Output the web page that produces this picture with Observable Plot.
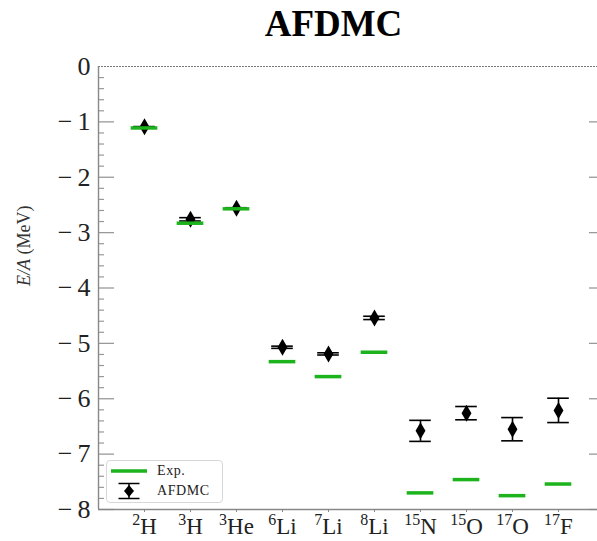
<!DOCTYPE html>
<html><head><meta charset="utf-8">
<script src="https://cdn.jsdelivr.net/npm/d3@7"></script>
<script src="https://cdn.jsdelivr.net/npm/@observablehq/plot@0.6"></script>
<style>
body{margin:0;background:#fff;}
#wrap{position:relative;width:597px;height:541px;overflow:hidden;}
#legend{position:absolute;left:106px;top:460px;width:115px;height:41px;border:1px solid #d8d8d8;border-radius:4px;background:rgba(255,255,255,0.85);font-family:"Liberation Serif",serif;font-size:14px;letter-spacing:0.6px;color:#222;}
#legend .row{position:absolute;left:0;height:20px;display:flex;align-items:center;}
#legend svg{display:block;}
#legend span{position:absolute;left:50px;white-space:nowrap;}
</style></head>
<body><div id="wrap"><div id="chart"></div>
<div id="legend">
  <div class="row" style="top:0px;"><svg width="44" height="20"><line x1="4" x2="40" y1="10" y2="10" stroke="#1db31d" stroke-width="3.5"/></svg><span>Exp.</span></div>
  <div class="row" style="top:20px;"><svg width="44" height="20"><line x1="22" x2="22" y1="2.5" y2="17.5" stroke="#000" stroke-width="1.5"/><line x1="11.5" x2="32.5" y1="2.5" y2="2.5" stroke="#000" stroke-width="1.5"/><line x1="11.5" x2="32.5" y1="17.5" y2="17.5" stroke="#000" stroke-width="1.5"/><path d="M22,4L27,10L22,16L17,10Z" fill="#000"/></svg><span>AFDMC</span></div>
</div>
</div>
<script>
const nuclei = ["2H","3H","3He","6Li","7Li","8Li","15N","15O","17O","17F"];
const massNumbers = ["2","3","3","6","7","8","15","15","17","17"];
const elements = ["H","H","He","Li","Li","Li","N","O","O","F"];
const expValues = [-1.11,-2.83,-2.57,-5.33,-5.60,-5.16,-7.70,-7.46,-7.75,-7.54];
const afdmcValues = [-1.09,-2.76,-2.56,-5.07,-5.19,-4.54,-6.58,-6.26,-6.55,-6.21];
const afdmcErrors = [0.005,0.03,0.01,0.02,0.02,0.03,0.19,0.12,0.21,0.22];
const yMajorTicks = [0,-1,-2,-3,-4,-5,-6,-7,-8];
const yMinorTicks = [-0.2,-0.4,-0.6,-0.8,-1.2,-1.4,-1.6,-1.8,-2.2,-2.4,-2.6,-2.8,-3.2,-3.4,-3.6,-3.8,-4.2,-4.4,-4.6,-4.8,-5.2,-5.4,-5.6,-5.8,-6.2,-6.4,-6.6,-6.8,-7.2,-7.4,-7.6,-7.8];
const title = "AFDMC";

const rows = nuclei.map((n, i) => ({pos: i + 1, name: n, exp: expValues[i], val: afdmcValues[i], err: afdmcErrors[i]}));

const thinDiamond = {
  draw(ctx, size) {
    const h = Math.sqrt(size / Math.PI);
    const w = h * 0.58;
    ctx.moveTo(0, -h); ctx.lineTo(w, 0); ctx.lineTo(0, h); ctx.lineTo(-w, 0); ctx.closePath();
  }
};

const green = "#1db31d";
const serif = "Liberation Serif";
const yFmt = d => d === 0 ? "0" : "\u2212\u2009" + Math.abs(d);

const chart = Plot.plot({
  width: 597,
  height: 541,
  marginTop: 66,
  marginBottom: 32,
  marginLeft: 98,
  marginRight: -7,
  style: {fontFamily: serif, background: "#fff"},
  x: {domain: [0, 11], axis: null},
  y: {domain: [-8, 0], axis: null},
  marks: [
    Plot.ruleY([0], {stroke: "#777", strokeWidth: 1.2, strokeDasharray: "2,1"}),
    Plot.axisY(yMinorTicks, {anchor: "left", tickSize: -6, tickFormat: () => "", stroke: "#999", strokeWidth: 1.2, label: null}),
    Plot.axisY(yMajorTicks.filter(d => d !== 0), {anchor: "left", tickSize: -16, tickFormat: () => "", stroke: "#999", strokeWidth: 1.3, label: null}),
    Plot.axisY(yMinorTicks, {anchor: "right", tickSize: -6, tickFormat: () => "", stroke: "#999", strokeWidth: 1.2, label: null}),
    Plot.axisY(yMajorTicks.filter(d => d !== 0), {anchor: "right", tickSize: -16, tickFormat: () => "", stroke: "#999", strokeWidth: 1.3, label: null}),
    Plot.axisY(yMajorTicks, {anchor: "left", tickSize: 0, tickPadding: 8, tickFormat: yFmt, fontSize: 26, fill: "#222", label: null}),
    Plot.axisX(rows.map(d => d.pos), {anchor: "bottom", tickSize: 3, tickPadding: 5, tickFormat: p => nuclei[p - 1], fontSize: 23, fill: "#222", stroke: "#888", label: null}),
    Plot.ruleX([0], {stroke: "#888", strokeWidth: 1.4}),
    Plot.ruleY([-8], {stroke: "#888", strokeWidth: 1.4}),
    Plot.ruleX(rows, {x: "pos", y1: d => d.val - d.err, y2: d => d.val + d.err, stroke: "#000", strokeWidth: 1.6}),
    Plot.ruleY(rows, {y: d => d.val - d.err, x1: d => d.pos - 0.235, x2: d => d.pos + 0.235, stroke: "#000", strokeWidth: 1.6}),
    Plot.ruleY(rows, {y: d => d.val + d.err, x1: d => d.pos - 0.235, x2: d => d.pos + 0.235, stroke: "#000", strokeWidth: 1.6}),
    Plot.dot(rows, {x: "pos", y: "val", symbol: thinDiamond, r: 8.5, fill: "#000", stroke: null}),
    Plot.ruleY(rows, {y: "exp", x1: d => d.pos - 0.29, x2: d => d.pos + 0.29, stroke: green, strokeWidth: 3.5}),
    Plot.text([title], {frameAnchor: "top", lineAnchor: "bottom", dy: -31, dx: -18, fontSize: 37, fontWeight: "bold", fill: "#000"}),
    Plot.text(["E/A (MeV)"], {frameAnchor: "left", rotate: -90, dx: -74, dy: -2, fontSize: 18, fill: "#333"})
  ]
});
document.getElementById("chart").appendChild(chart);

const ns = "http://www.w3.org/2000/svg";
// superscript mass numbers on x tick labels
chart.querySelectorAll('g[aria-label="x-axis tick label"] text').forEach(t => {
  const i = nuclei.indexOf(t.textContent);
  if (i < 0) return;
  t.textContent = "";
  const a = document.createElementNS(ns, "tspan");
  a.setAttribute("font-size", "16");
  a.setAttribute("baseline-shift", "9px");
  a.textContent = massNumbers[i];
  const b = document.createElementNS(ns, "tspan");
  b.textContent = elements[i];
  t.appendChild(a); t.appendChild(b);
});
// italic E/A in y label
chart.querySelectorAll('text').forEach(t => {
  if (t.textContent === "E/A (MeV)") {
    t.textContent = "";
    const a = document.createElementNS(ns, "tspan");
    a.setAttribute("font-style", "italic");
    a.textContent = "E/A";
    const b = document.createElementNS(ns, "tspan");
    b.textContent = " (MeV)";
    t.appendChild(a); t.appendChild(b);
  }
});
chart.querySelectorAll('g, text, tspan').forEach(el => {
  el.removeAttribute("font-family");
  el.style.fontFamily = "'Liberation Serif', serif";
});
chart.style.fontFamily = "'Liberation Serif', serif";
</script>
</body></html>
